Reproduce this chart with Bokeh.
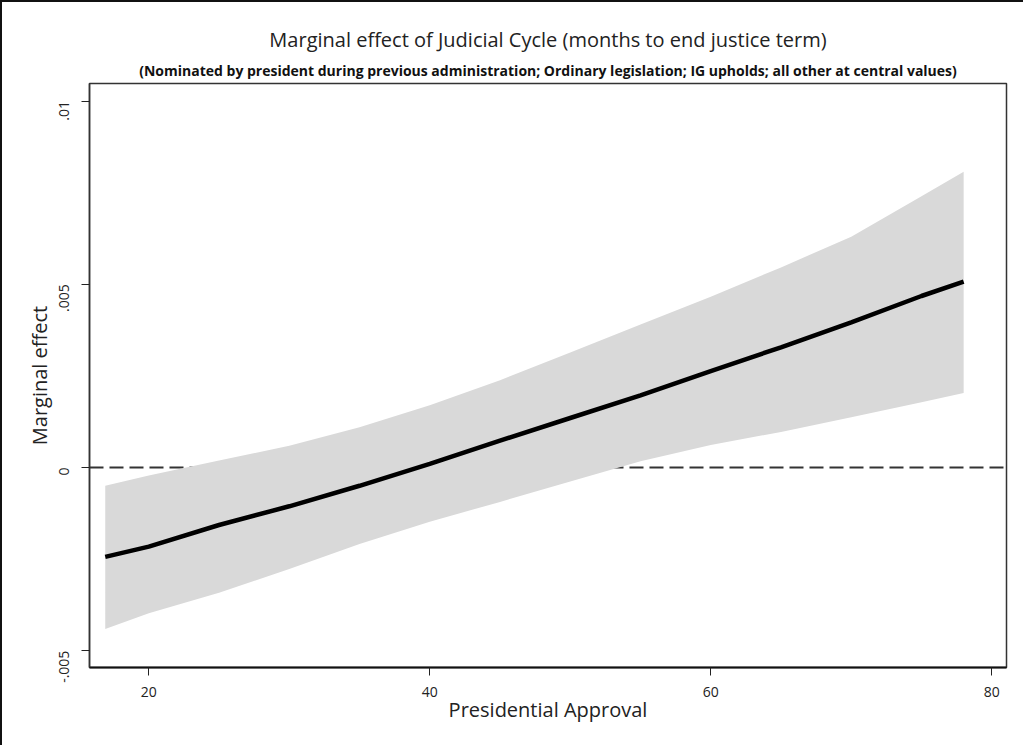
from bokeh.plotting import figure
from bokeh.models import Range1d, FixedTicker, Span, Title
from bokeh.embed import file_html
from bokeh.resources import INLINE
import math

# Data
approval = [16.9, 20, 25, 30, 35, 40, 45, 50, 55, 60, 65, 70, 75, 78]
effect = [-0.00244, -0.00216, -0.00157, -0.00106, -0.00050, 0.00010, 0.00073,
          0.00135, 0.00197, 0.00263, 0.00328, 0.00396, 0.00468, 0.00507]
upper = [-0.00050, -0.00022, 0.00019, 0.00059, 0.00110, 0.00170, 0.00238,
         0.00314, 0.00390, 0.00466, 0.00546, 0.00630, 0.00740, 0.00807]
lower = [-0.00441, -0.00398, -0.00342, -0.00277, -0.00209, -0.00148, -0.00094,
         -0.00038, 0.00017, 0.00061, 0.00097, 0.00137, 0.00178, 0.00203]

x_ticks = [20, 40, 60, 80]
y_ticks = [-0.005, 0, 0.005, 0.01]
y_tick_labels = {-0.005: "-.005", 0: "0", 0.005: ".005", 0.01: ".01"}

title_text = "Marginal effect of Judicial Cycle (months to end justice term)"
subtitle_text = ("(Nominated by president during previous administration; Ordinary legislation; "
                 "IG upholds; all other at central values)")

FONT = "Open Sans"

p = figure(width=1023, height=745, output_backend="svg", toolbar_location=None,
           x_range=Range1d(15.78, 81.05), y_range=Range1d(-0.00546, 0.01048),
           min_border_left=87, min_border_right=19, min_border_top=81, min_border_bottom=80)
p.styles = {"border-top": "2px solid #111111", "border-left": "2px solid #111111"}

p.title.visible = False
sub = Title(text=subtitle_text, align="center", text_font=FONT, text_font_size="14px",
            text_font_style="bold", text_color="#111111", standoff=7)
p.add_layout(sub, "above")
main = Title(text=title_text, align="center", text_font=FONT, text_font_size="20px",
             text_font_style="normal", text_color="#222222", standoff=5)
p.add_layout(main, "above")

p.xgrid.visible = False
p.ygrid.visible = False
p.background_fill_color = "white"
p.border_fill_color = "white"
p.outline_line_color = "#333333"
p.outline_line_width = 1.5

zero = Span(location=0, dimension="width", line_color="#333333", line_width=2,
            line_dash="14 6", level="underlay")
p.add_layout(zero)

p.varea(x=approval, y1=lower, y2=upper, fill_color="#d9d9d9", fill_alpha=1.0)
p.line(x=approval, y=effect, line_color="black", line_width=4.5)

# X axis
xa = p.xaxis[0]
xa.ticker = FixedTicker(ticks=x_ticks)
xa.minor_tick_line_color = None
xa.major_tick_out = 8
xa.major_tick_in = 0
xa.axis_line_color = "#111111"
xa.axis_line_width = 2
xa.major_tick_line_color = "#222222"
xa.major_label_text_font = FONT
xa.major_label_text_font_size = "14px"
xa.major_label_text_color = "#222222"
xa.major_label_standoff = 11
xa.axis_label = "Presidential Approval"
xa.axis_label_text_font = FONT
xa.axis_label_text_font_size = "20px"
xa.axis_label_text_font_style = "normal"
xa.axis_label_text_color = "#222222"
xa.axis_label_standoff = -4

# Y axis
ya = p.yaxis[0]
ya.ticker = FixedTicker(ticks=y_ticks)
ya.major_label_overrides = y_tick_labels
ya.minor_tick_line_color = None
ya.major_tick_out = 8
ya.major_tick_in = 0
ya.axis_line_color = "#333333"
ya.axis_line_width = 1.5
ya.major_tick_line_color = "#222222"
ya.major_label_orientation = math.pi / 2
ya.major_label_text_font = FONT
ya.major_label_text_font_size = "14px"
ya.major_label_text_color = "#222222"
ya.major_label_standoff = 17
ya.axis_label = "Marginal effect"
ya.axis_label_text_font = FONT
ya.axis_label_text_font_size = "20px"
ya.axis_label_text_font_style = "normal"
ya.axis_label_text_color = "#222222"
ya.axis_label_standoff = -1

open("out.html", "w").write(file_html(p, INLINE))
